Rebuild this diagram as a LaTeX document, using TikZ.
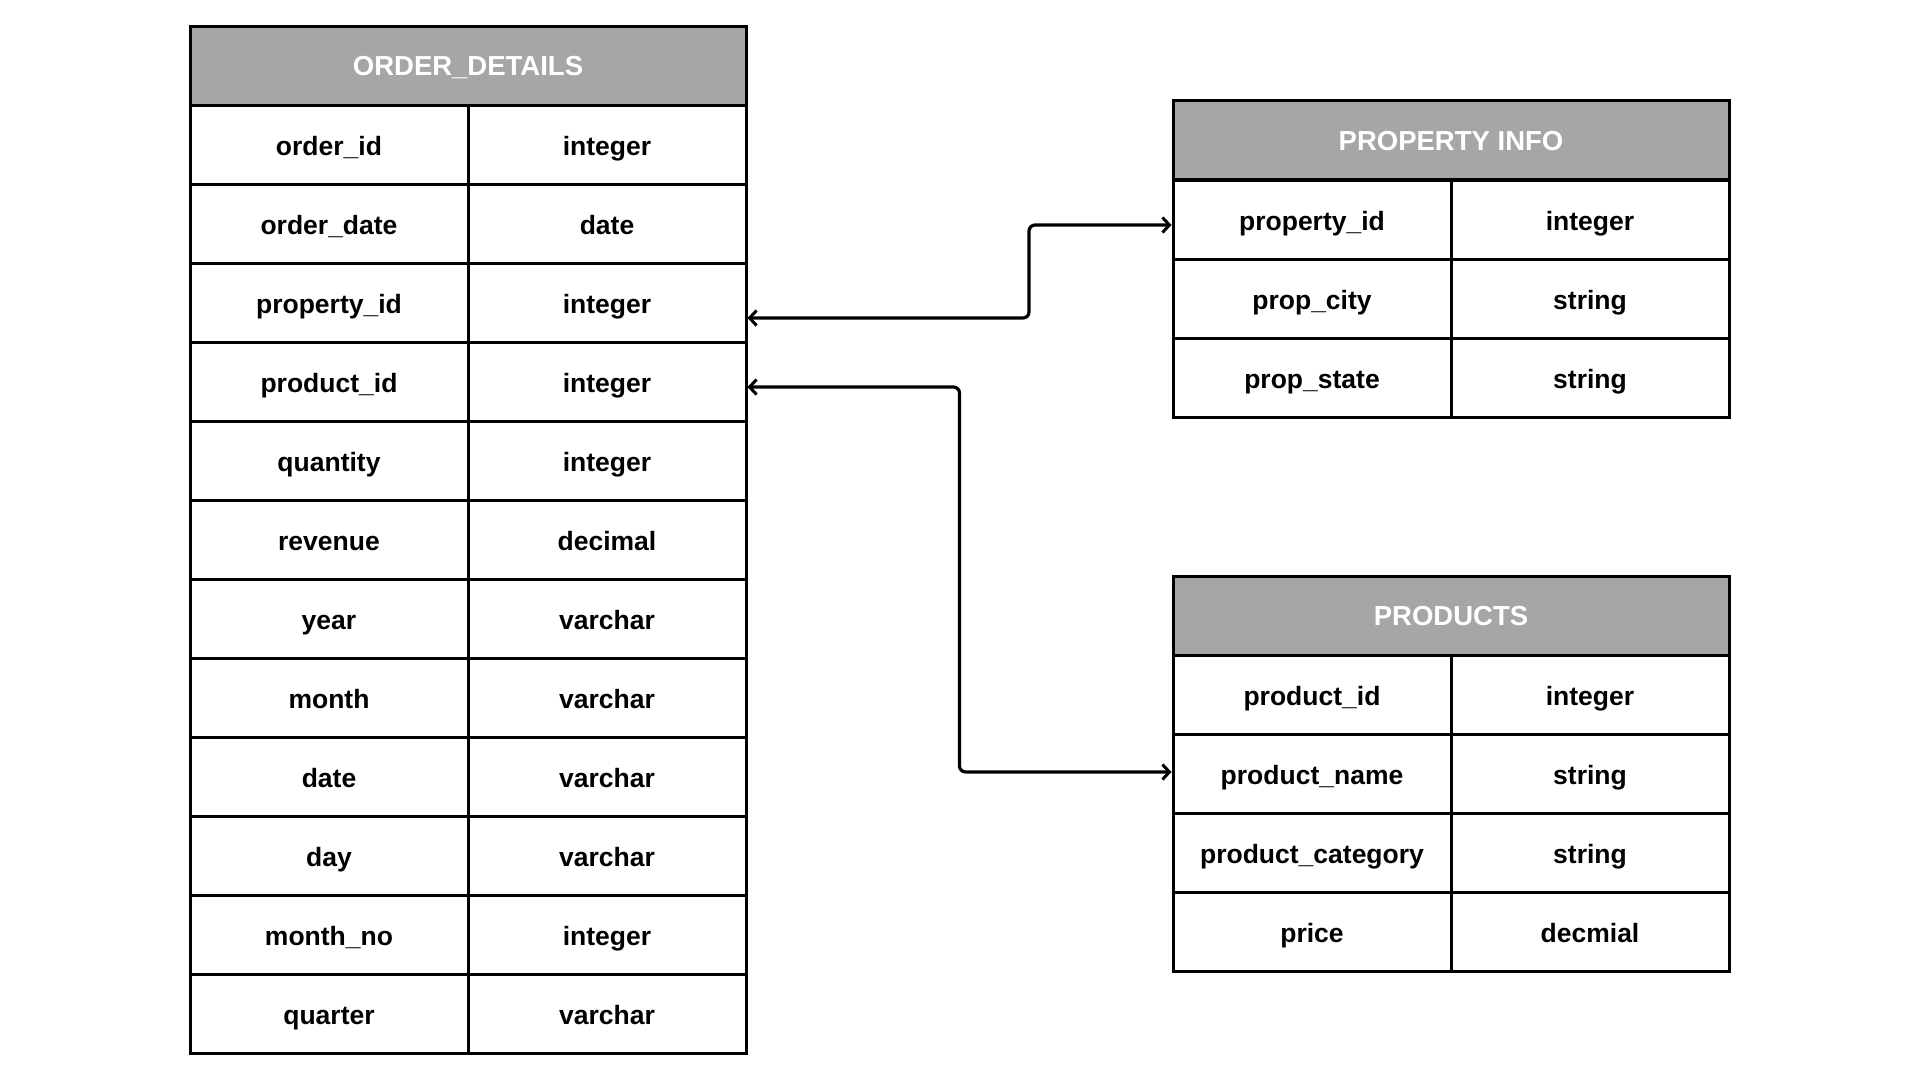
\documentclass[tikz,border=0pt]{standalone}
\usepackage{fontspec}
\setmainfont{Liberation Sans}
\usetikzlibrary{arrows.meta}
\definecolor{hdrgray}{HTML}{A6A6A6}
\begin{document}
\begin{tikzpicture}[x=1pt,y=-1pt,
  cell/.style={draw=black, line width=3pt, fill=white, minimum width=278pt, minimum height=79pt,
    inner sep=0pt, text height=23pt, text depth=2pt, font=\bfseries\fontsize{26.5}{30}\selectfont, text=black},
  hdr/.style={draw=black, line width=3pt, fill=hdrgray, minimum width=556pt, minimum height=79pt,
    inner sep=0pt, text height=21.6pt, text depth=1.2pt, font=\bfseries\fontsize{27.5}{32}\selectfont, text=white},
  link/.style={line width=3.2pt, rounded corners=6pt, {Straight Barb[length=7pt,width=15pt,line width=3pt]}-{Straight Barb[length=7pt,width=15pt,line width=3pt]}}]
\useasboundingbox (0,0) rectangle (1920,1080);
\fill[white] (0,0) rectangle (1920,1080);

% ORDER_DETAILS
\node[hdr] (odh) at (468,65.5) {ORDER\_DETAILS};
\foreach \i/\a/\b in {1/order\_id/integer,2/order\_date/date,3/property\_id/integer,4/product\_id/integer,
  5/quantity/integer,6/revenue/decimal,7/year/varchar,8/month/varchar,9/date/varchar,10/day/varchar,
  11/month\_no/integer,12/quarter/varchar}{
  \node[cell] (od\i a) at (329,{105+79*\i-39.5}) {\a};
  \node[cell] (od\i b) at (607,{105+79*\i-39.5}) {\b};
}

% PROPERTY INFO
\node[hdr] (pih) at (1451,140) {PROPERTY INFO};
\foreach \i/\a/\b in {1/property\_id/integer,2/prop\_city/string,3/prop\_state/string}{
  \node[cell] (pi\i a) at (1312,{180+79*\i-39.5}) {\a};
  \node[cell] (pi\i b) at (1590,{180+79*\i-39.5}) {\b};
}

% PRODUCTS
\node[hdr] (prh) at (1451,615.5) {PRODUCTS};
\foreach \i/\a/\b in {1/product\_id/integer,2/product\_name/string,3/product\_category/string,4/price/decmial}{
  \node[cell] (pr\i a) at (1312,{655+79*\i-39.5}) {\a};
  \node[cell] (pr\i b) at (1590,{655+79*\i-39.5}) {\b};
}

% connectors
\draw[link] ([yshift=-15.5pt]od3b.east) -| (1029,225) -- ([yshift=-5.5pt]pi1a.west);
\draw[link] ([yshift=-5.5pt]od4b.east) -| (959.5,772) -- ([yshift=1.5pt]pr2a.west);
\end{tikzpicture}
\end{document}
